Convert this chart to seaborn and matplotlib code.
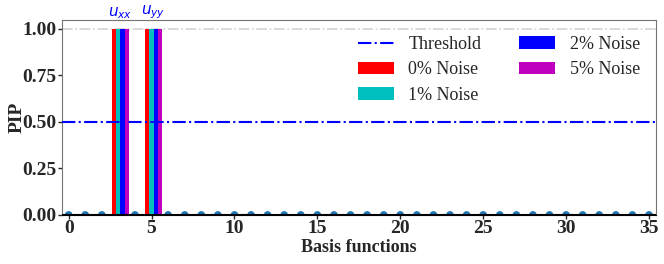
import numpy as np
import pandas as pd
import matplotlib
matplotlib.use("Agg")
import matplotlib.pyplot as plt
import seaborn as sns

# basis function indices and PIP per noise level
basis = list(range(36))
noise_labels = ["0% Noise", "1% Noise", "2% Noise", "5% Noise"]
noise_colors = ["r", "c", "b", "m"]
active_terms = [3, 5]
term_labels = [r"$u_{xx}$", r"$u_{yy}$"]
pip_active = [1.0, 1.0]
pip_zero = [0.0] * 36
threshold = 0.5

sns.set_style("white")
plt.rcParams['font.family'] = ['Liberation Serif', 'DejaVu Serif']
plt.rcParams['mathtext.fontset'] = 'dejavusans'

fig = plt.figure(figsize=(6.64, 2.64), dpi=100)
ax = fig.add_axes([0.0934, 0.186, 0.894, 0.74])

width = 0.25
ax.axhline(threshold, color="b", ls="-.", lw=1.5, label="Threshold", zorder=3)
ax.axhline(1.0, color="lightgray", ls="-.", lw=1.2, zorder=1)

for k, (lab, col) in enumerate(zip(noise_labels, noise_colors)):
    xs = [t + (k - 1) * width for t in active_terms]
    ax.bar(xs, pip_active, width=width, color=col, label=lab, linewidth=0, zorder=2)

df = pd.DataFrame({"basis": basis, "pip": pip_zero})
sns.scatterplot(data=df, x="basis", y="pip", ax=ax, color="#1f77b4",
                s=30, edgecolor="none", zorder=1, legend=False)
ax.axhline(0, color="k", lw=1.5, zorder=4)

for t, lab in zip(active_terms, term_labels):
    ax.text(t + 0.125, 1.04, lab, color="b", ha="center", va="bottom", fontsize=11)

ax.set_xlim(-0.4, 35.4)
ax.set_ylim(0, 1.05)
ax.set_yticks([0, 0.25, 0.5, 0.75, 1.0])
ax.set_yticklabels(["0.00", "0.25", "0.50", "0.75", "1.00"])
ax.set_xticks(range(0, 36, 5))
ax.tick_params(axis="both", labelsize=14, length=3, width=1, direction="out",
               left=True, bottom=True, pad=1)
for lbl in ax.get_xticklabels() + ax.get_yticklabels():
    lbl.set_fontweight("bold")
for s in ["left", "right", "top"]:
    ax.spines[s].set_color("0.45")
ax.spines["bottom"].set_color("k")

ax.set_xlabel("Basis functions", fontsize=13, fontweight="bold", labelpad=1)
ax.set_ylabel("PIP", fontsize=14, fontweight="bold")
ax.yaxis.set_label_coords(-0.062, 0.5)

ax.legend(loc="upper right", ncol=2, frameon=False, fontsize=13,
          handlelength=2.0, handletextpad=0.8, columnspacing=2.1,
          labelspacing=0.46, borderaxespad=0.3,
          bbox_to_anchor=(0.995, 0.98))

fig.savefig("out.png", dpi=100)
